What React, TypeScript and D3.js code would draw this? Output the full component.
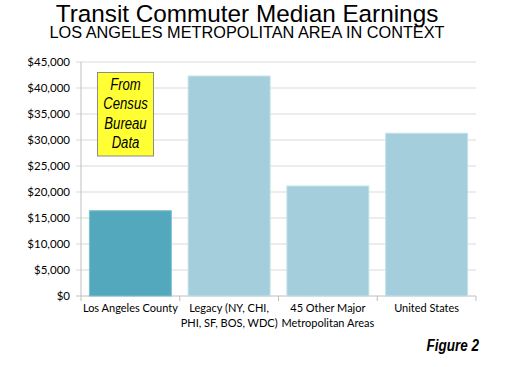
import React from 'react';
import * as d3 from 'd3';

const categories = ['Los Angeles County', 'Legacy (NY, CHI, PHI, SF, BOS, WDC)', '45 Other Major Metropolitan Areas', 'United States'];
const labelLines = [['Los Angeles County'], ['Legacy (NY, CHI,', 'PHI, SF, BOS, WDC)'], ['45 Other Major', 'Metropolitan Areas'], ['United States']];
const earnings = [16400, 42300, 21150, 31300];
const yTicks = [0, 5000, 10000, 15000, 20000, 25000, 30000, 35000, 40000, 45000];
const noteLines = ['From', 'Census', 'Bureau', 'Data'];

const App: React.FC = () => {
  const width = 513;
  const height = 367;
  const left = 81;
  const right = 476;
  const top = 62;
  const bottom = 296;

  const x = d3.scaleBand().domain(categories).range([left, right]).paddingInner(0.17).paddingOuter(0.085);
  const y = d3.scaleLinear().domain([0, 45000]).range([bottom, top]);
  const fmt = (v: number) => '$' + d3.format(',')(v);
  const step = (right - left) / categories.length;
  const boundaries = d3.range(categories.length + 1).map((i) => left + i * step);
  const narrow = 0.82;

  return (
    <svg width={width} height={height} style={{ position: 'absolute', left: 0, top: 0, background: '#fff' }}>
      <text x={247} y={22} textAnchor="middle" fontFamily="Liberation Sans, Arial" fontSize={24.3} fill="#000">
        Transit Commuter Median Earnings
      </text>
      <text x={247} y={38} textAnchor="middle" fontFamily="Liberation Sans, Arial" fontSize={16.3} fill="#000">
        LOS ANGELES METROPOLITAN AREA IN CONTEXT
      </text>

      {yTicks.map((t) => (
        <g key={t}>
          <line x1={left - 5} x2={right} y1={y(t)} y2={y(t)} stroke={t === 0 ? '#bfbfbf' : '#d9d9d9'} />
          <text x={70} y={y(t) + 4} textAnchor="end" fontFamily="Lato, Open Sans, sans-serif" fontSize={11.5} fill="#000">
            {fmt(t)}
          </text>
        </g>
      ))}
      <line x1={left} x2={left} y1={top} y2={bottom} stroke="#bfbfbf" />
      {boundaries.map((b, i) => (
        <line key={i} x1={b} x2={b} y1={bottom} y2={bottom + 5} stroke="#bfbfbf" />
      ))}

      {categories.map((c, i) => (
        <rect
          key={c}
          x={x(c) ?? 0}
          y={y(earnings[i])}
          width={x.bandwidth()}
          height={bottom - y(earnings[i])}
          fill={i === 0 ? '#53a8bd' : '#a4cedc'}
          stroke={i === 0 ? '#7cc0d0' : '#c4e2ea'}
          strokeWidth={1}
        />
      ))}

      {categories.map((c, i) => (
        <text key={c} textAnchor="middle" fontFamily="Lato, Open Sans, sans-serif" fontSize={11} fill="#000">
          {labelLines[i].map((l, j) => (
            <tspan key={j} x={(x(c) ?? 0) + x.bandwidth() / 2} y={312 + j * 15}>
              {l}
            </tspan>
          ))}
        </text>
      ))}

      <rect x={97.5} y={72.5} width={56} height={83.5} fill="#ffff33" stroke="#8c8c8c" />
      {noteLines.map((l, i) => (
        <g key={l} transform={`translate(125.5, ${90 + i * 19.3}) scale(${narrow}, 1)`}>
          <text x={0} y={0} textAnchor="middle" fontFamily="Liberation Sans, Arial" fontStyle="italic" fontSize={16} fill="#000">
            {l}
          </text>
        </g>
      ))}

      <g transform={`translate(479, 351) scale(${narrow}, 1)`}>
        <text x={0} y={0} textAnchor="end" fontFamily="Liberation Sans, Arial" fontStyle="italic" fontWeight="bold" fontSize={16.5} fill="#000">
          Figure 2
        </text>
      </g>
    </svg>
  );
};

export default App;
